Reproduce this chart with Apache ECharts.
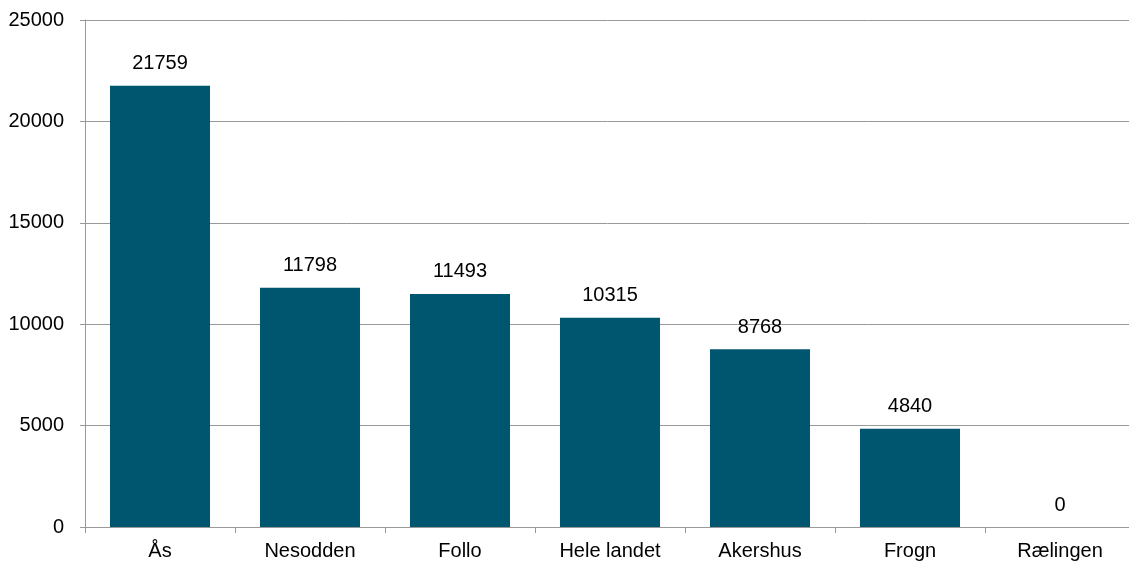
<!DOCTYPE html>
<html><head><meta charset="utf-8">
<script src="https://cdn.jsdelivr.net/npm/echarts@6/dist/echarts.min.js"></script>
<style>html,body{margin:0;padding:0;background:#fff}#c{width:1129px;height:566px}</style>
</head><body><div id="c"></div>
<script>
const categories = ['Ås','Nesodden','Follo','Hele landet','Akershus','Frogn','Rælingen'];
const values = [21759,11798,11493,10315,8768,4840,0];
const chart = echarts.init(document.getElementById('c'));
const font = 'Liberation Sans, Arial, sans-serif';
chart.setOption({
  animation:false,
  grid:{left:85,width:1050,top:20,height:507,containLabel:false,outerBoundsMode:'none'},
  xAxis:{type:'category',data:categories,
    axisLine:{lineStyle:{color:'#999',width:1}},
    axisTick:{show:true,length:6,lineStyle:{color:'#999'}},
    axisLabel:{color:'#000',fontSize:20,fontFamily:font,margin:14}},
  yAxis:{type:'value',min:0,max:25000,interval:5000,
    axisLine:{show:true,lineStyle:{color:'#999'}},
    axisTick:{show:true,length:5,lineStyle:{color:'#999'}},
    splitLine:{lineStyle:{color:'#999'}},
    axisLabel:{color:'#000',fontSize:20,fontFamily:font,margin:21,formatter:v=>String(v)}},
  series:[{type:'bar',data:values,barCategoryGap:'33.3%',
    itemStyle:{color:'#00566e'},
    label:{show:true,position:'top',distance:12,color:'#000',fontSize:20,fontFamily:font}}]
});
</script></body></html>
